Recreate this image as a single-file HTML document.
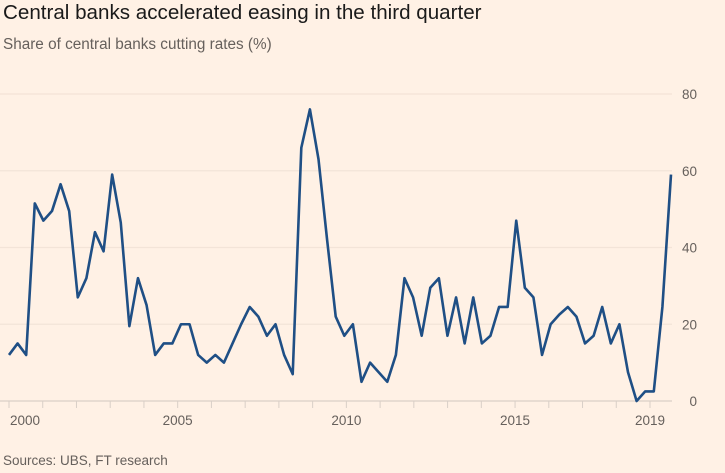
<!DOCTYPE html>
<html><head><meta charset="utf-8"><style>
body{margin:0;background:#fff1e5;font-family:"Liberation Sans",sans-serif;}
#wrap{position:relative;width:725px;height:473px;overflow:hidden;background:#fff1e5;}
.t{position:absolute;white-space:nowrap;}
</style></head><body>
<div id="wrap">
<div class="t" style="left:3px;top:1px;font-size:20.6px;color:#1a1a1a;">Central banks accelerated easing in the third quarter</div>
<div class="t" style="left:3px;top:36px;font-size:15.3px;color:#66605c;">Share of central banks cutting rates (%)</div>
<svg id="chart" width="725" height="473" style="position:absolute;left:0;top:0;"></svg>
<div class="t" style="left:3px;top:453px;font-size:13.5px;color:#66605c;">Sources: UBS, FT research</div>
</div>
<script>
const values=[12,15,12,51.5,47,49.5,56.5,49.5,27,32,44,39,59,46.5,19.5,32,25,12,15,15,20,20,12,10,12,10,15,20,24.5,22,17,20,12,7,66,76,63,42,22,17,20,5,10,7.5,5,12,32,27,17,29.5,32,17,27,15,27,15,17,24.5,24.5,47,29.5,27,12,20,22.5,24.5,22,15,17,24.5,15,20,7.5,0,2.5,2.5,24.5,59];
const yTicks=[0,20,40,60,80];
const xTickYears=[2000,2005,2010,2015,2019];
const NS="http://www.w3.org/2000/svg";
const svg=document.getElementById('chart');
const y=v=>401-v*(307/80);
const x=i=>9+i*(662/(values.length-1));
const xy=yr=>9+(yr-2000)*(641/19);
function mk(t,a){const e=document.createElementNS(NS,t);for(const k in a)e.setAttribute(k,a[k]);svg.appendChild(e);return e;}
yTicks.forEach(v=>{
  const g=mk('line',{x1:0,x2:672,y1:y(v),y2:y(v),stroke:v===0?'#d9cfc7':'#f3e4d8','stroke-width':1.2});
  
  
  const t=mk('text',{x:697,y:y(v)+5,'text-anchor':'end','font-size':13.5,fill:'#66605c','font-family':'Liberation Sans, sans-serif'});
  t.textContent=v;
  
  
});
for(let yr=2000;yr<=2019;yr++){
  const tk=mk('line',{x1:xy(yr),x2:xy(yr),y1:401,y2:408,stroke:'#d9cfc7','stroke-width':1});
  
  
}
xTickYears.forEach(yr=>{
  const t=mk('text',{x:yr===2000?xy(yr)+1:xy(yr),y:425,'text-anchor':yr===2000?'start':'middle','font-size':13.5,fill:'#66605c','font-family':'Liberation Sans, sans-serif'});
  t.textContent=yr;
  
  
});
const p=mk('polyline',{points:values.map((v,i)=>x(i)+','+y(v)).join(' '),fill:'none',stroke:'#1f4f85','stroke-width':2.6,'stroke-linejoin':'round'});


</script>
</body></html>
